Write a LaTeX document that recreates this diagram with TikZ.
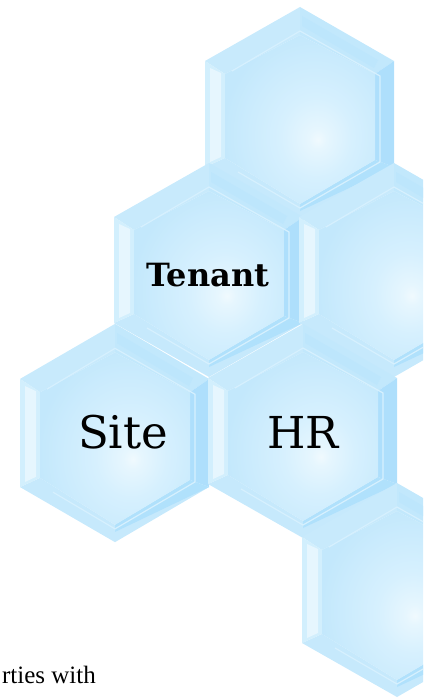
\documentclass[tikz,border=0pt]{standalone}
\usepackage{fontspec}
\setmainfont{DejaVu Serif}
\newfontfamily\bodyserif{Liberation Serif}
\definecolor{bvTL}{HTML}{C8EAFC}
\definecolor{bvTR}{HTML}{C2E8FC}
\definecolor{bvR}{HTML}{AEDFFC}
\definecolor{bvBR}{HTML}{B0E1FC}
\definecolor{bvBL}{HTML}{C6E9FC}
\definecolor{bvL}{HTML}{D2EFFD}
\definecolor{hexfill}{HTML}{C3E8FC}
\definecolor{hexline}{HTML}{D6F0FE}
\definecolor{hexstripe}{HTML}{E6F6FE}
\definecolor{hexband}{HTML}{BDE6FC}
\pgfdeclareradialshading{hexglow}{\pgfpoint{6bp}{-6bp}}{
  color(0bp)=(hexstripe!60!white);
  color(3bp)=(hexstripe);
  color(12bp)=(hexline);
  color(30bp)=(hexfill);
  color(100bp)=(hexfill)}
\tikzset{
  bevel/.style={fill=#1,draw=none},
  hexrim/.style={draw=hexline,line width=1.2pt,line join=miter,fill=none}
}
\newcommand{\glasshex}[3]{%
  \begin{scope}[shift={(#1,#2)},yscale=#3]
    \coordinate (oT) at (0,-107); \coordinate (oUR) at (94,-53);
    \coordinate (oLR) at (94,53); \coordinate (oB) at (0,107);
    \coordinate (oLL) at (-95,53); \coordinate (oUL) at (-95,-53);
    \coordinate (iT) at (0,-79); \coordinate (iUR) at (75,-40);
    \coordinate (iLR) at (75,46); \coordinate (iB) at (0,90);
    \coordinate (iLL) at (-75,44); \coordinate (iUL) at (-75,-40);
    \fill[bevel=bvTL] (oUL)--(oT)--(iT)--(iUL)--cycle;
    \fill[bevel=bvTR] (oT)--(oUR)--(iUR)--(iT)--cycle;
    \fill[bevel=bvR] (oUR)--(oLR)--(iLR)--(iUR)--cycle;
    \fill[bevel=bvBL] (oLR)--(oB)--(iB)--(iLR)--cycle;
    \fill[bevel=bvBR] (oLR)--(0,97)--(iB)--(iLR)--cycle;
    \fill[bevel=bvBL] (oB)--(oLL)--(iLL)--(iB)--cycle;
    \fill[bevel=bvL] (oLL)--(oUL)--(iUL)--(iLL)--cycle;
    \fill[hexstripe] (-90,-46)--(-79,-41)--(-79,43)--(-90,48)--cycle;
    \fill[hexband] (2,-98)--(78,-54)--(74,-46)--(2,-88)--cycle;
    \path[shading=hexglow] (iT)--(iUR)--(iLR)--(iB)--(iLL)--(iUL)--cycle;
    \draw[hexrim] (-68,-43)--(0,-83)--(80,-38)--(80,48)--(0,94)--(-62,58);
  \end{scope}}
\begin{document}
\begin{tikzpicture}[x=1pt,y=-1pt]
\useasboundingbox (0,0) rectangle (430,698);
\begin{scope}
\clip (0,0) rectangle (423,698);
\glasshex{300}{114}{1}
\glasshex{209}{270}{1}
\glasshex{394}{270}{1}
\glasshex{115}{433}{1.02}
\glasshex{303}{431}{1}
\glasshex{397}{590}{1}
\end{scope}
\node[font=\bfseries\fontsize{32}{34}\selectfont,anchor=base] (tenant) at (208,286) {Tenant};
\node[font=\fontsize{45}{47}\selectfont,anchor=base] (site) at (123,448) {Site};
\node[font=\fontsize{44}{46}\selectfont,anchor=base] (hr) at (303,448) {HR};
\node[font=\bodyserif\fontsize{25}{27}\selectfont,anchor=base east,inner sep=0pt] (body) at (96,683) {rties with};
\end{tikzpicture}
\end{document}
